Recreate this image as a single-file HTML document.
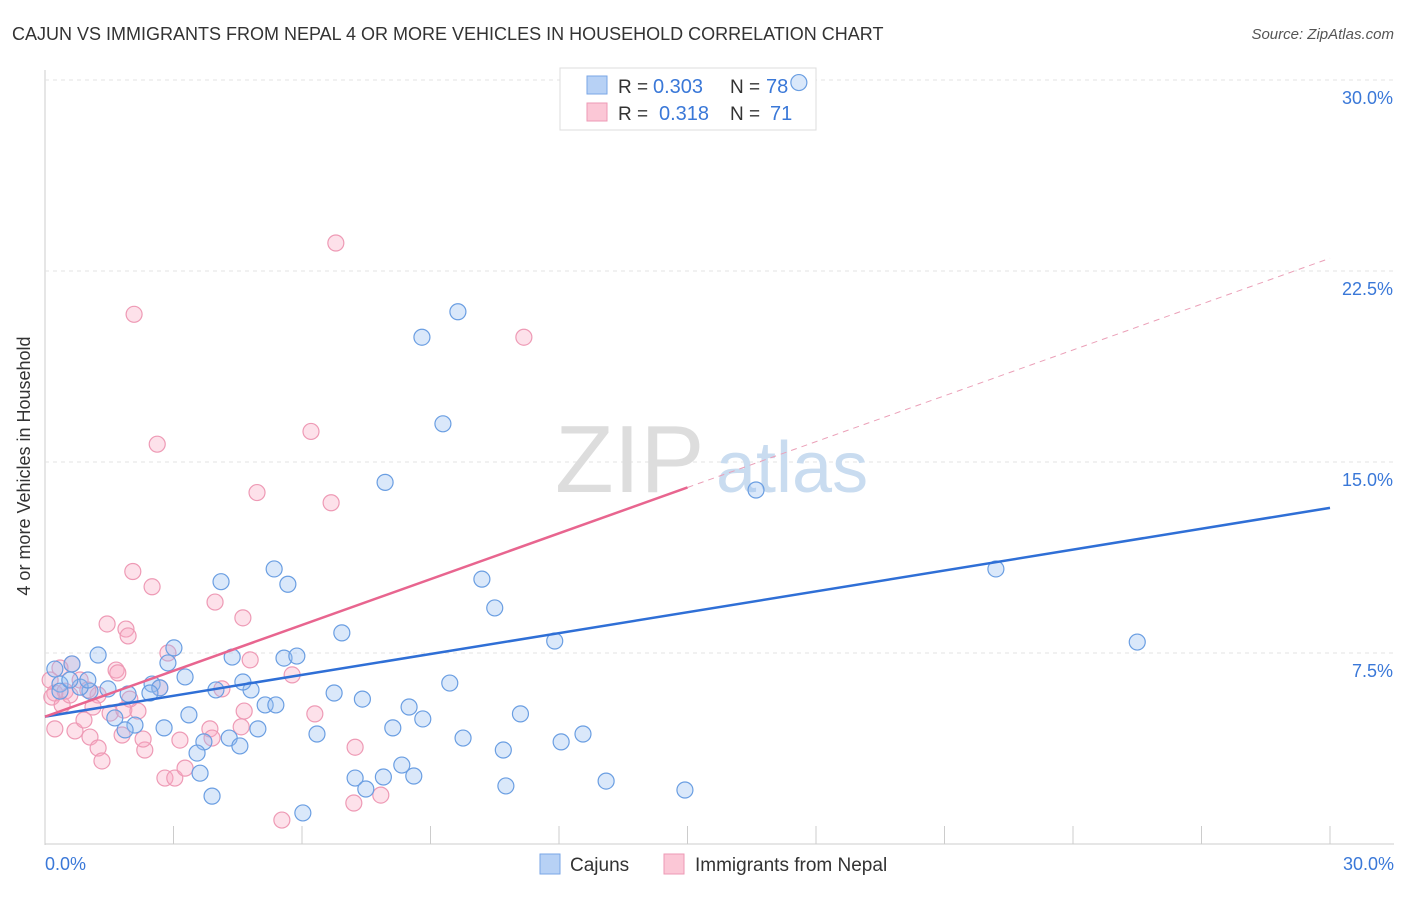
<!DOCTYPE html>
<html><head><meta charset="utf-8"><style>
body{margin:0;background:#fff;font-family:"Liberation Sans",sans-serif}
svg text{font-family:"Liberation Sans",sans-serif}
</style></head><body>
<svg width="1406" height="892" viewBox="0 0 1406 892">
<text x="12" y="40" font-size="18" fill="#333">CAJUN VS IMMIGRANTS FROM NEPAL 4 OR MORE VEHICLES IN HOUSEHOLD CORRELATION CHART</text>
<text x="1394" y="39" font-size="15" fill="#555" font-style="italic" text-anchor="end">Source: ZipAtlas.com</text>
<g id="grid"></g>
<text x="555" y="492" font-size="96" fill="#ddd" font-family="Liberation Serif">ZIP</text>
<text x="716" y="492" font-size="72" fill="#c9dcf0">atlas</text>
<g>
<rect x="560" y="68" width="256" height="62" fill="#fff" stroke="#ddd"/>
<rect x="587" y="76" width="20" height="18" fill="#b7d1f5" stroke="#7aa6e6"/>
<rect x="587" y="103" width="20" height="18" fill="#fbc7d6" stroke="#ee9ab5"/>
<text x="618" y="93" font-size="19" fill="#333">R =</text>
<text x="653" y="93" font-size="20" fill="#3a78d8">0.303</text>
<text x="730" y="93" font-size="19" fill="#333">N =</text>
<text x="766" y="93" font-size="20" fill="#3a78d8">78</text>
<text x="618" y="120" font-size="19" fill="#333">R =</text>
<text x="659" y="120" font-size="20" fill="#3a78d8">0.318</text>
<text x="730" y="120" font-size="19" fill="#333">N =</text>
<text x="770" y="120" font-size="20" fill="#3a78d8">71</text>
</g>
<g id="pts"></g>
<g id="lines"></g>
<text x="20" y="456" font-size="18" fill="#333" transform="rotate(-90 30 456)" text-anchor="middle">4 or more Vehicles in Household</text>
<text x="45" y="870" font-size="18" fill="#3a78d8">0.0%</text>
<text x="1394" y="870" font-size="18" fill="#3a78d8" text-anchor="end">30.0%</text>
<g>
<rect x="540" y="854" width="20" height="20" fill="#b7d1f5" stroke="#7aa6e6"/>
<text x="570" y="871" font-size="19" fill="#333">Cajuns</text>
<rect x="664" y="854" width="20" height="20" fill="#fbc7d6" stroke="#ee9ab5"/>
<text x="695" y="871" font-size="19" fill="#333">Immigrants from Nepal</text>
</g>
</svg>
<script>
const yTicks=[7.5,15,22.5,30];
const yTickLabels=["7.5%","15.0%","22.5%","30.0%"];
const xTicks=[0,3,6,9,12,15,18,21,24,27,30];
const blueX=[17.6,9.64,8.8,9.29,7.94,16.6,22.2,25.5,5.35,5.67,4.11,10.2,10.5,6.93,3.01,1.24,0.23,0.63,2.87,4.37,5.58,5.88,3.27,2.5,2.68,3.99,4.81,4.62,6.75,7.41,9.45,8.5,5.14,5.39,3.36,2.78,11.1,8.82,8.12,4.97,6.35,4.3,4.55,3.71,9.76,10.7,12.05,12.56,3.55,3.62,7.24,7.9,8.33,8.61,7.49,10.76,13.1,14.94,3.9,6.02,1.47,1.94,1.05,0.35,0.82,1.63,2.1,1.87,2.45,0.35,0.58,1.0,11.9];
const blueY=[29.9,20.9,19.9,16.5,14.2,13.9,10.8,7.93,10.8,10.2,10.3,10.4,9.27,8.29,7.7,7.42,6.87,7.07,7.11,7.34,7.3,7.38,6.56,6.28,6.13,6.05,6.05,6.36,5.93,5.69,6.32,5.38,5.46,5.46,5.07,4.56,5.11,4.91,4.56,4.52,4.32,4.16,3.85,4.01,4.16,3.69,4.01,4.32,3.57,2.78,2.59,2.63,3.1,2.67,2.16,2.28,2.47,2.12,1.88,1.22,6.09,5.89,6.0,6.28,6.16,4.95,4.67,4.48,5.93,6.0,6.44,6.44,7.97];
const pinkX=[6.79,2.08,11.18,2.62,6.21,4.95,6.68,2.05,2.5,3.97,4.62,1.45,1.89,1.94,2.87,4.79,5.77,1.66,0.63,4.65,6.3,4.58,3.85,3.15,7.24,2.33,2.29,2.68,1.24,0.82,0.23,0.12,0.16,0.4,0.7,1.05,1.24,1.33,0.91,1.8,1.52,1.84,2.17,2.8,3.03,3.27,4.13,3.9,1.0,0.47,1.12,0.23,1.7,7.21,7.84,5.53,0.58,1.98,0.35];
const pinkY=[23.6,20.8,19.9,15.7,16.2,13.8,13.4,10.7,10.1,9.5,8.88,8.64,8.44,8.17,7.5,7.23,6.64,6.83,7.07,5.22,5.11,4.6,4.52,4.08,3.8,3.69,4.12,6.13,5.85,6.44,5.93,6.44,5.77,5.46,4.44,4.2,3.77,3.26,4.87,4.28,5.14,5.26,5.22,2.59,2.59,2.98,6.09,4.16,6.05,6.0,5.38,4.52,6.72,1.61,1.92,0.94,5.85,5.69,6.91];
const blueLine=[5.0,13.2];
const pinkLine=[5.0,14.0,23.0];
const X=v=>45+v/30*1285, Y=v=>844-v/7.5*191;
const NS="http://www.w3.org/2000/svg";
function mk(t,a,p){const e=document.createElementNS(NS,t);for(const k in a)e.setAttribute(k,a[k]);p.appendChild(e);return e;}
const grid=document.getElementById('grid');
let ax=mk('line',{x1:45,y1:70,x2:45,y2:845,stroke:'#ccc'},grid);


let bx=mk('line',{x1:45,y1:844,x2:1394,y2:844,stroke:'#ccc'},grid);


yTicks.forEach((t,i)=>{
 const g=mk('line',{x1:45,x2:1394,y1:Y(t),y2:Y(t),stroke:'#e3e3e3','stroke-dasharray':'4,4'},grid);
 
 
 const tx=mk('text',{x:1393,y:Y(t)+24,'font-size':18,fill:'#3a78d8','text-anchor':'end'},grid);
 tx.textContent=yTickLabels[i];
 
 
});
xTicks.forEach(t=>{
 const l=mk('line',{x1:X(t),x2:X(t),y1:826,y2:844,stroke:'#ccc'},grid);
 
 
});
const pts=document.getElementById('pts');
pinkX.forEach((v,i)=>{const c=mk('circle',{cx:X(v),cy:Y(pinkY[i]),r:8,fill:'rgba(248,170,195,0.35)',stroke:'#ee9ab5','stroke-width':1.2},pts);
 
 });
blueX.forEach((v,i)=>{const c=mk('circle',{cx:X(v),cy:Y(blueY[i]),r:8,fill:'rgba(150,190,240,0.35)',stroke:'#6a9ee2','stroke-width':1.2},pts);
 
 });
const lines=document.getElementById('lines');
let l1=mk('line',{x1:X(0),y1:Y(blueLine[0]),x2:X(30),y2:Y(blueLine[1]),stroke:'#2f6fd6','stroke-width':2.5},lines);


let l2=mk('line',{x1:X(0),y1:Y(pinkLine[0]),x2:X(15),y2:Y(pinkLine[1]),stroke:'#e8658f','stroke-width':2.5},lines);


let l3=mk('line',{x1:X(15),y1:Y(pinkLine[1]),x2:X(30),y2:Y(pinkLine[2]),stroke:'#eba0b8','stroke-width':1,'stroke-dasharray':'6,5'},lines);


</script>
</body></html>
